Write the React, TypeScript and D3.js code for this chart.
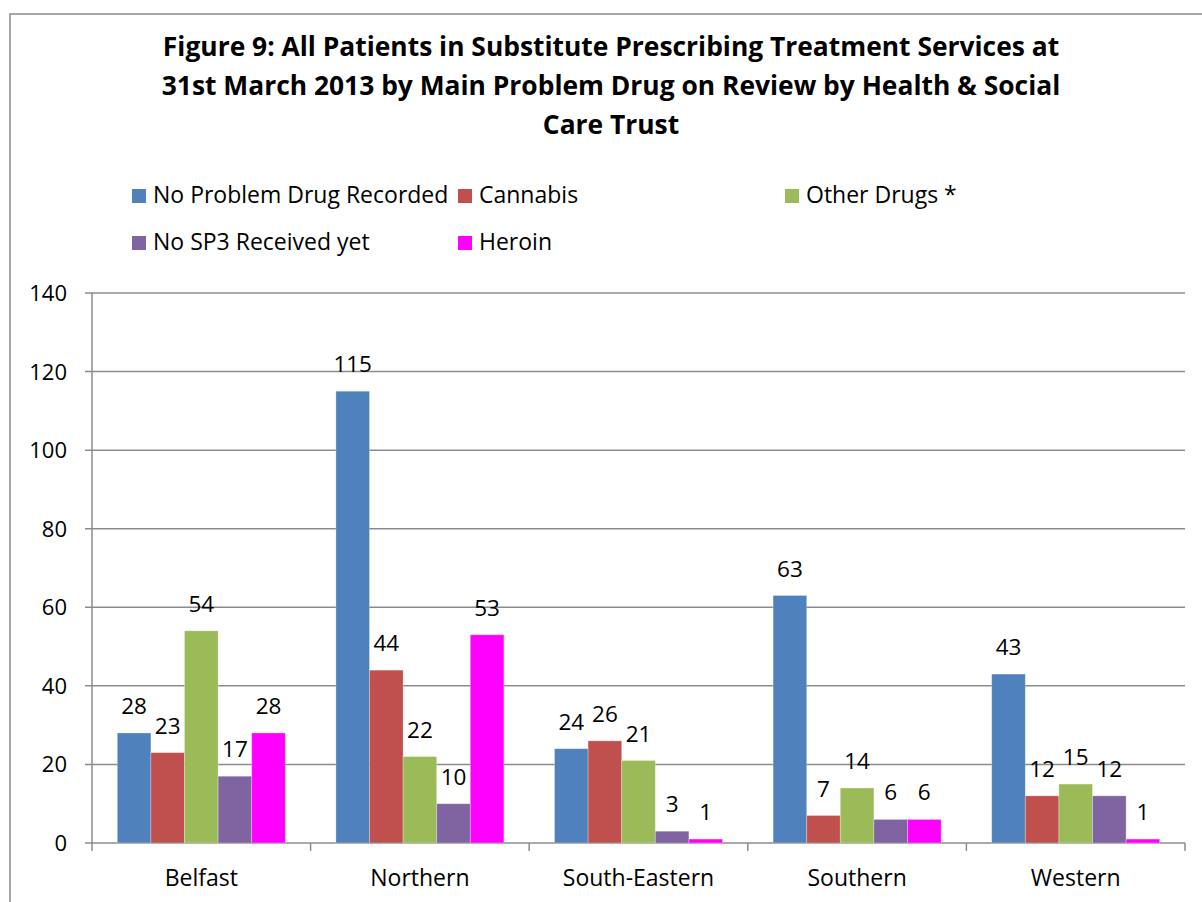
import React from "react";
import * as d3 from "d3";

// Health & Social Care Trusts and patient counts by main problem drug
const trusts = ["Belfast", "Northern", "South-Eastern", "Southern", "Western"];
const seriesNames = [
  "No Problem Drug Recorded",
  "Cannabis",
  "Other Drugs *",
  "No SP3 Received yet",
  "Heroin",
];
const noProblemDrug = [28, 115, 24, 63, 43];
const cannabis = [23, 44, 26, 7, 12];
const otherDrugs = [54, 22, 21, 14, 15];
const noSP3 = [17, 10, 3, 6, 12];
const heroin = [28, 53, 1, 6, 1];
const seriesColors = ["#4F81BD", "#C0504D", "#9BBB59", "#8064A2", "#FF00FF"];
const yTicks = [0, 20, 40, 60, 80, 100, 120, 140];
const titleLines = [
  "Figure 9: All Patients in Substitute Prescribing Treatment Services at",
  "31st March 2013 by Main Problem Drug on Review by Health & Social",
  "Care Trust",
];

const FONT = "'Open Sans', 'Noto Sans', sans-serif";

export default function App() {
  const W = 1202;
  const H = 902;
  const values = [noProblemDrug, cannabis, otherDrugs, noSP3, heroin];

  const plot = { left: 92, right: 1185, top: 293, bottom: 843 };
  const x = d3.scaleBand<string>().domain(trusts).range([plot.left, plot.right]).paddingInner(0).paddingOuter(0);
  const groupPad = 25.3;
  const xs = d3
    .scaleBand<string>()
    .domain(seriesNames)
    .range([0, x.bandwidth() - 2 * groupPad])
    .padding(0);
  const y = d3.scaleLinear().domain([0, 140]).range([plot.bottom, plot.top]);

  const gridColor = "#8C8C8C";

  const legendRows = [
    [
      { i: 0, x: 132 },
      { i: 1, x: 458 },
      { i: 2, x: 785 },
    ],
    [
      { i: 3, x: 132 },
      { i: 4, x: 458 },
    ],
  ];
  const legendY = [203, 250];

  return (
    <svg
      width={W}
      height={H}
      style={{ position: "absolute", left: 0, top: 0, background: "#fff" }}
      fontFamily={FONT}
    >
      <rect x={0} y={0} width={W} height={H} fill="#fff" />
      {/* chart frame */}
      <rect x={10} y={14} width={W + 20} height={H + 20} fill="none" stroke="#8A8A8A" strokeWidth={1.5} />

      {/* title */}
      {titleLines.map((t, i) => (
        <text
          key={t}
          x={611}
          y={56 + i * 39}
          textAnchor="middle"
          fontSize={26.4}
          fontWeight={700}
          fill="#000"
        >
          {t}
        </text>
      ))}

      {/* legend */}
      {legendRows.map((row, r) =>
        row.map(({ i, x: lx }) => (
          <g key={seriesNames[i]}>
            <rect x={lx} y={legendY[r] - 14} width={14} height={14} fill={seriesColors[i]} />
            <text x={lx + 21} y={legendY[r]} fontSize={23} fill="#000">
              {seriesNames[i]}
            </text>
          </g>
        ))
      )}

      {/* gridlines and y ticks */}
      {yTicks.map((t) => (
        <g key={t}>
          <line x1={85} x2={plot.right} y1={y(t)} y2={y(t)} stroke={gridColor} strokeWidth={1.5} />
          <text x={67} y={y(t) + 8} textAnchor="end" fontSize={22} fill="#000">
            {t}
          </text>
        </g>
      ))}
      <line x1={plot.left} x2={plot.left} y1={plot.top} y2={plot.bottom} stroke={gridColor} strokeWidth={1.5} />

      {/* x axis ticks */}
      {d3.range(trusts.length + 1).map((k) => {
        const tx = plot.left + k * x.bandwidth();
        return <line key={k} x1={tx} x2={tx} y1={plot.bottom} y2={plot.bottom + 8} stroke={gridColor} strokeWidth={1.5} />;
      })}

      {/* bars and value labels */}
      {trusts.map((trust, ci) => (
        <g key={trust}>
          {seriesNames.map((s, si) => {
            const v = values[si][ci];
            const bx = (x(trust) as number) + groupPad + (xs(s) as number);
            const bw = xs.bandwidth();
            return (
              <g key={s}>
                <rect
                  x={bx}
                  y={y(v)}
                  width={bw}
                  height={y(0) - y(v)}
                  fill={seriesColors[si]}
                  stroke="rgba(255,255,255,0.35)"
                  strokeWidth={0.8}
                />
                <text x={bx + bw / 2} y={y(v) - 19} textAnchor="middle" fontSize={22.5} fill="#000">
                  {v}
                </text>
              </g>
            );
          })}
          <text x={(x(trust) as number) + x.bandwidth() / 2} y={886} textAnchor="middle" fontSize={23} fill="#000">
            {trust}
          </text>
        </g>
      ))}
    </svg>
  );
}
